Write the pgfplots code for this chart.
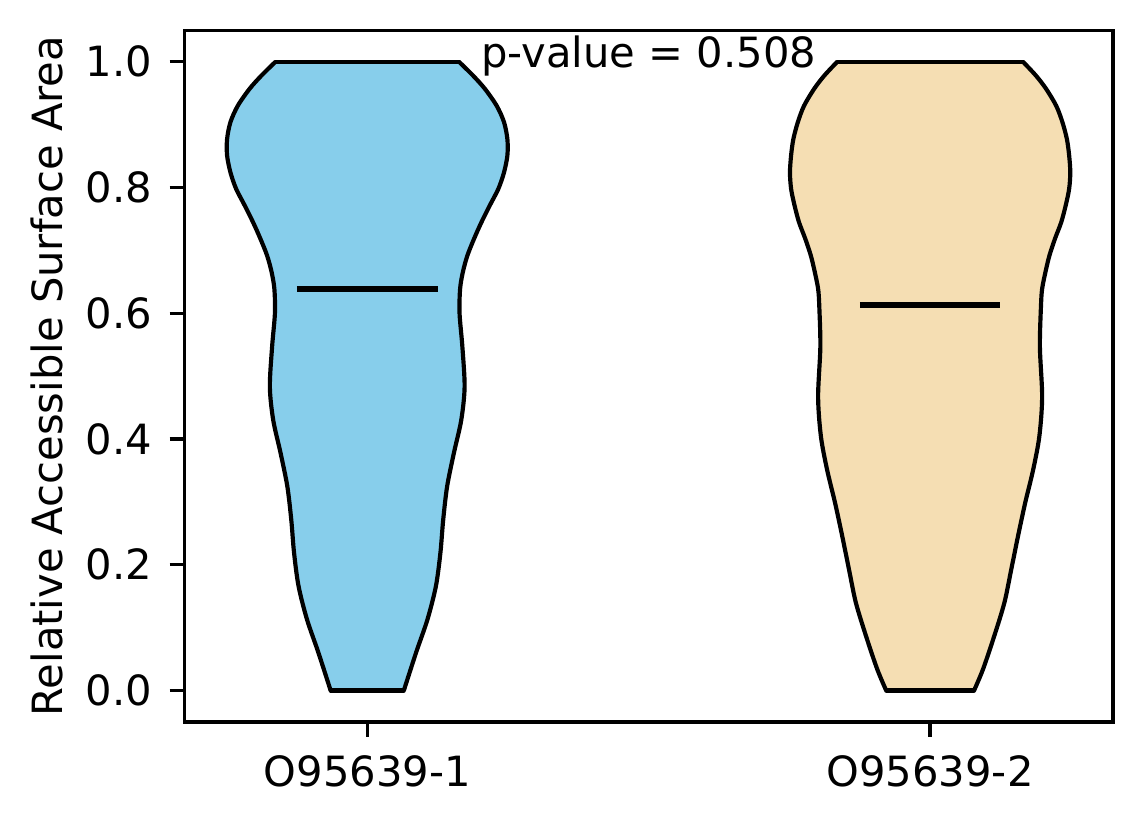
\documentclass[border=0pt]{standalone}
\usepackage{fontspec}
\setmainfont{DejaVu Sans}
\usepackage{pgfplots}
\pgfplotsset{compat=1.18}
\usepackage{pgfplotstable}
\usepgfplotslibrary{fillbetween}
\definecolor{skyblue}{RGB}{135,206,235}
\definecolor{wheat}{RGB}{245,222,179}

\pgfplotstableread{
y hw
0.000 0.065
0.061 0.087
0.113 0.107
0.166 0.122
0.219 0.130
0.272 0.135
0.325 0.142
0.378 0.154
0.430 0.167
0.483 0.173
0.547 0.169
0.600 0.164
0.639 0.165
0.666 0.170
0.692 0.178
0.719 0.190
0.745 0.203
0.772 0.218
0.798 0.233
0.824 0.243
0.851 0.249
0.877 0.249
0.904 0.243
0.930 0.230
0.957 0.209
0.978 0.188
1.000 0.163
}\vone

\pgfplotstableread{
y hw
0.000 0.078
0.034 0.094
0.087 0.114
0.140 0.132
0.192 0.144
0.245 0.156
0.299 0.169
0.351 0.183
0.404 0.194
0.467 0.199
0.547 0.195
0.613 0.197
0.639 0.199
0.666 0.205
0.692 0.212
0.719 0.222
0.745 0.233
0.772 0.241
0.798 0.247
0.824 0.249
0.851 0.247
0.877 0.243
0.904 0.235
0.930 0.224
0.957 0.206
0.978 0.188
1.000 0.165
}\vtwo

\begin{document}
\begin{tikzpicture}
\begin{axis}[
  set layers,
  at={(0,0)}, anchor=south west,
  scale only axis, width=222.9pt, height=166pt,
  xmin=0.675, xmax=2.325, ymin=-0.05, ymax=1.05,
  axis line style={line width=0.8pt},
  xtick={1,2}, xticklabels={O95639-1,O95639-2},
  ytick={0,0.2,0.4,0.6,0.8,1.0},
  tick align=outside, major tick length=3.5pt,
  tick style={line width=0.8pt, black},
  xtick pos=bottom, ytick pos=left,
  /pgf/number format/assume math mode=true,
  /pgf/number format/fixed,
  /pgf/number format/fixed zerofill,
  /pgf/number format/precision=1,
  tick label style={font=\fontsize{10}{12}\selectfont},
  yticklabel style={anchor=east, inner sep=0pt},
  xticklabel style={anchor=north, inner sep=0pt},
  yticklabel shift=4pt,
  xticklabel shift=4.4pt,
  ylabel={Relative Accessible Surface Area},
  every axis y label/.style={at={(axis description cs:-0.1306,0.5)}, rotate=90, anchor=base, font=\fontsize{10}{12}\selectfont},
]
\addplot[name path=L1, smooth, black, line width=1pt] table[x expr=1-\thisrow{hw}, y=y]{\vone};
\addplot[name path=R1, smooth, black, line width=1pt] table[x expr=1+\thisrow{hw}, y=y]{\vone};
\addplot[fill=skyblue, draw=none] fill between[of=L1 and R1, reverse=true];
\addplot[black, line width=1pt, line cap=round] coordinates {(0.837,1.0) (1.163,1.0)};
\addplot[black, line width=1pt, line cap=round] coordinates {(0.935,0.0) (1.065,0.0)};

\addplot[name path=L2, smooth, black, line width=1pt] table[x expr=2-\thisrow{hw}, y=y]{\vtwo};
\addplot[name path=R2, smooth, black, line width=1pt] table[x expr=2+\thisrow{hw}, y=y]{\vtwo};
\addplot[fill=wheat, draw=none] fill between[of=L2 and R2, reverse=true];
\addplot[black, line width=1pt, line cap=round] coordinates {(1.835,1.0) (2.165,1.0)};
\addplot[black, line width=1pt, line cap=round] coordinates {(1.922,0.0) (2.078,0.0)};

\addplot[black, line width=1.5pt] coordinates {(0.875,0.639) (1.125,0.639)};
\addplot[black, line width=1.5pt] coordinates {(1.875,0.613) (2.125,0.613)};

\node[anchor=base, font=\fontsize{10}{12}\selectfont] at (axis cs:1.5,0.991) {p-value = 0.508};
\end{axis}
\pgfresetboundingbox
\path (-44.23pt,-24.48pt) rectangle (230.33pt,173.28pt);
\end{tikzpicture}
\end{document}
